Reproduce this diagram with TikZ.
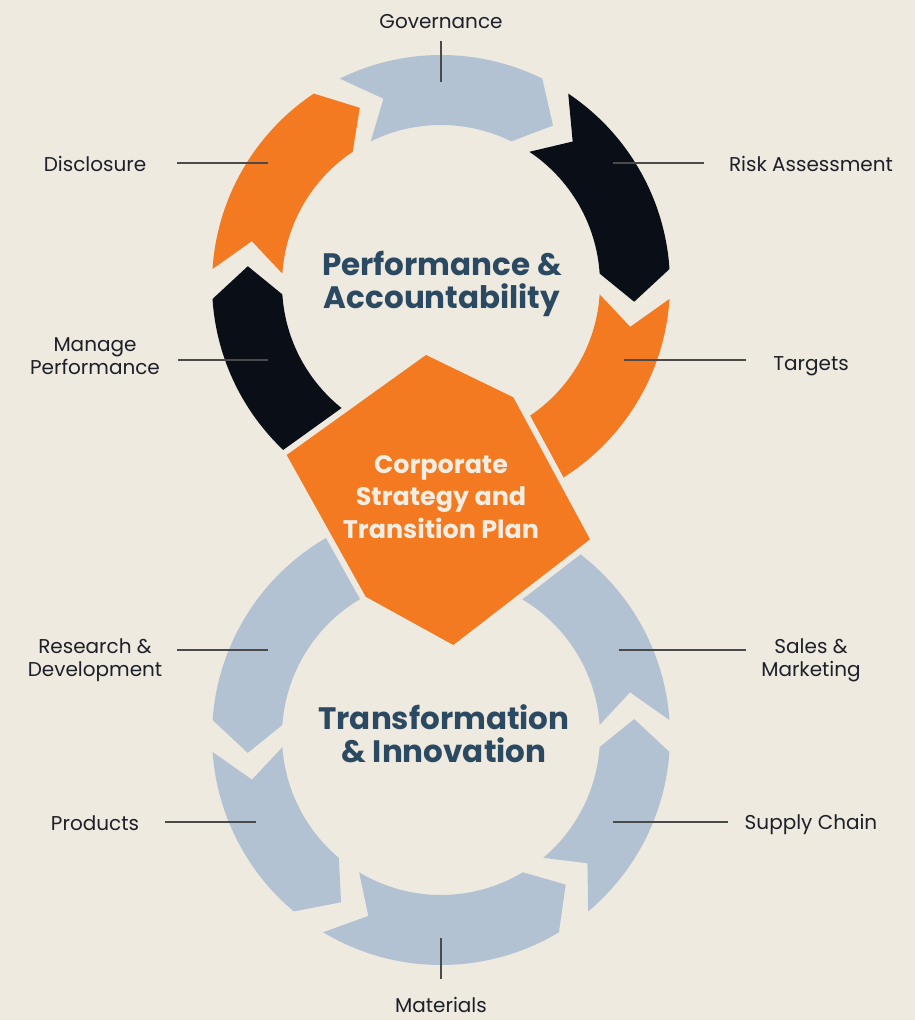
\documentclass[tikz,border=0pt]{standalone}
\usepackage{fontspec}
\setmainfont{Poppins}
\usetikzlibrary{calc}
\definecolor{bgc}{HTML}{EEEAE0}
\definecolor{orng}{HTML}{F47A22}
\definecolor{blk}{HTML}{0A0F17}
\definecolor{lblue}{HTML}{B3C2D3}
\definecolor{ttl}{HTML}{2B4A62}
\definecolor{lbltxt}{HTML}{1E1F28}
\definecolor{leadc}{HTML}{4A4A4A}
\definecolor{cream}{HTML}{F3EDE2}
\def\chRo{229}
\def\chRi{159}
\def\chRm{194}
\newcommand{\chevseg}[4]{%
  \pgfmathsetmacro{\chtn}{#2+#4}%
  \pgfmathsetmacro{\chhd}{#3+#4}%
  \fill[#1] (#2:\chRo) arc[start angle=#2, end angle=#3, radius=\chRo]
    -- (\chhd:\chRm) -- (#3:\chRi)
    arc[start angle=#3, end angle=#2, radius=\chRi]
    -- (\chtn:\chRm) -- cycle;
}
\tikzset{
  lbl/.style={text=lbltxt, align=center, font=\fontsize{20}{23}\selectfont, inner sep=0pt},
  leader/.style={draw=leadc, line width=1.6pt},
  ttlnode/.style={text=ttl, align=center, font=\bfseries\fontsize{31}{33}\selectfont, inner sep=0pt},
  hexnode/.style={text=cream, align=center, font=\bfseries\fontsize{25.4}{32.5}\selectfont, inner sep=0pt}
}
\begin{document}
\begin{tikzpicture}[x=1pt,y=1pt]
\fill[bgc] (0,0) rectangle (915,1020);
\useasboundingbox (0,0) rectangle (915,1020);
% top circle (clockwise arrows)
\begin{scope}[shift={(441,736)}]
  \chevseg{lblue}{116.25}{63.75}{-9}
  \chevseg{blk}{56.25}{3.75}{-9}
  \chevseg{orng}{-3.75}{-86}{-9}
  \chevseg{blk}{-94}{-176.25}{-9}
  \chevseg{orng}{-183.75}{-236.25}{-9}
\end{scope}
% bottom circle (counter-clockwise arrows)
\begin{scope}[shift={(441,284)}]
  \chevseg{lblue}{4}{75}{9}
  \chevseg{lblue}{-50}{-4}{9}
  \chevseg{lblue}{-121}{-59}{9}
  \chevseg{lblue}{-176}{-130}{9}
  \chevseg{lblue}{-255}{-184}{9}
\end{scope}
% central hexagon
\coordinate (h1) at (426,665);
\coordinate (h2) at (513.3,622.7);
\coordinate (h3) at (590,480.7);
\coordinate (h4) at (453.3,375);
\coordinate (h5) at (365.7,423.3);
\coordinate (h6) at (286.7,565);
\draw[bgc, line width=12pt, line join=round] (h1) -- (h2) -- (h3) -- (h4) -- (h5) -- (h6) -- cycle;
\fill[orng] (h1) -- (h2) -- (h3) -- (h4) -- (h5) -- (h6) -- cycle;
% titles
\node[ttlnode] (perf) at (442,736) {Performance \&\\Accountability};
\node[hexnode] (corp) at (441,523) {Corporate\\Strategy and\\Transition Plan};
\node[ttlnode] (trans) at (444,286) {Transformation\\\& Innovation};
% labels
\node[lbl] (gov) at (441,998) {Governance};
\node[lbl] (disc) at (95,856) {Disclosure};
\node[lbl] (risk) at (811,856) {Risk Assessment};
\node[lbl] (mng) at (95,664) {Manage\\Performance};
\node[lbl] (targ) at (811,654) {Targets};
\node[lbl] (rnd) at (95,360) {Research \&\\Development};
\node[lbl] (sam) at (811,360) {Sales \&\\Marketing};
\node[lbl] (prod) at (95,197) {Products};
\node[lbl] (supp) at (811,196) {Supply Chain};
\node[lbl] (mat) at (441,15) {Materials};
% leader end points
\coordinate (govA) at (441,979); \coordinate (govB) at (441,938);
\coordinate (discA) at (177,857); \coordinate (discB) at (268,857);
\coordinate (riskA) at (704,857); \coordinate (riskB) at (613,857);
\coordinate (mngA) at (178,660); \coordinate (mngB) at (268,660);
\coordinate (targA) at (746,660); \coordinate (targB) at (624,660);
\coordinate (rndA) at (177,370); \coordinate (rndB) at (268,370);
\coordinate (samA) at (746,370); \coordinate (samB) at (619,370);
\coordinate (prodA) at (165,198); \coordinate (prodB) at (256,198);
\coordinate (suppA) at (728,198); \coordinate (suppB) at (613,198);
\coordinate (matA) at (441,41); \coordinate (matB) at (441,82);
\draw[leader] (govA) -- (govB);
\draw[leader] (discA) -- (discB);
\draw[leader] (riskA) -- (riskB);
\draw[leader] (mngA) -- (mngB);
\draw[leader] (targA) -- (targB);
\draw[leader] (rndA) -- (rndB);
\draw[leader] (samA) -- (samB);
\draw[leader] (prodA) -- (prodB);
\draw[leader] (suppA) -- (suppB);
\draw[leader] (matA) -- (matB);
\end{tikzpicture}
\end{document}
